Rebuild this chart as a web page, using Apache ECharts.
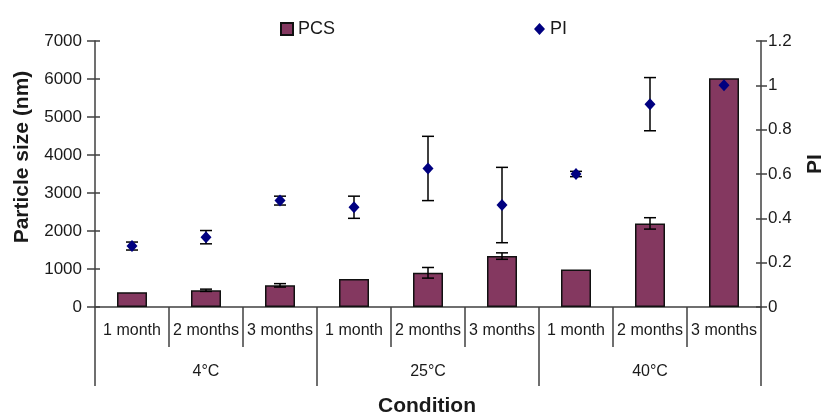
<!DOCTYPE html>
<html><head><meta charset="utf-8">
<script src="https://cdn.jsdelivr.net/npm/echarts@6/dist/echarts.min.js"></script>
<style>html,body{margin:0;padding:0;background:#fff}#c{width:827px;height:417px}</style>
</head><body><div id="c"></div>
<script>
const categories = ['1 month','2 months','3 months','1 month','2 months','3 months','1 month','2 months','3 months'];
const groups = ['4°C','25°C','40°C'];
const pcsValues = [390, 440, 570, 740, 900, 1340, 990, 2200, 6020];
const pcsErrors = [0, 30, 45, 0, 140, 85, 0, 150, 0];
const piValues = [0.275, 0.315, 0.48, 0.45, 0.625, 0.46, 0.6, 0.915, 1.0];
const piErrors = [0.018, 0.03, 0.02, 0.05, 0.145, 0.17, 0.012, 0.12, 0];
const leftTicks = {min: 0, max: 7000, interval: 1000};
const rightTicks = {min: 0, max: 1.2, interval: 0.2};

const FONT = "'Liberation Sans', Arial, sans-serif";
const TXT = '#1a1a1a';
const AX = '#404040';

function errItem(params, api) {
  const i = api.value(0), v = api.value(1), e = api.value(2);
  if (!e) return;
  const top = api.coord([i, v + e]);
  const bot = api.coord([i, v - e]);
  const hw = 6;
  const st = {stroke: '#000', lineWidth: 1.5};
  return {type: 'group', children: [
    {type: 'line', shape: {x1: top[0], y1: top[1], x2: bot[0], y2: bot[1]}, style: st},
    {type: 'line', shape: {x1: top[0]-hw, y1: top[1], x2: top[0]+hw, y2: top[1]}, style: st},
    {type: 'line', shape: {x1: bot[0]-hw, y1: bot[1], x2: bot[0]+hw, y2: bot[1]}, style: st}
  ]};
}

const chart = echarts.init(document.getElementById('c'), null, {renderer: 'canvas'});
chart.setOption({
  animation: false,
  textStyle: {fontFamily: FONT, color: TXT},
  grid: {left: 95, right: 66, top: 41, bottom: 110},
  legend: [
    {data: ['PCS'], left: 275, top: 15, itemWidth: 12, itemHeight: 12, icon: 'rect',
     textStyle: {fontSize: 18, color: TXT, fontFamily: FONT}},
    {data: ['PI'], left: 529, top: 15, itemWidth: 11, itemHeight: 12, icon: 'diamond',
     textStyle: {fontSize: 18, color: TXT, fontFamily: FONT}}
  ],
  xAxis: [
    {type: 'category', data: categories, position: 'bottom',
     axisLine: {show: true, lineStyle: {color: AX, width: 1.5}},
     axisTick: {show: true, length: 40, lineStyle: {color: AX, width: 1.5}},
     axisLabel: {margin: 16, fontSize: 16, color: TXT, fontFamily: FONT, interval: 0},
     splitLine: {show: false}},
    {type: 'category', data: groups, position: 'bottom',
     axisLine: {show: false},
     axisTick: {show: true, length: 79, lineStyle: {color: AX, width: 1.5}},
     axisLabel: {margin: 57, fontSize: 16, color: TXT, fontFamily: FONT, interval: 0},
     splitLine: {show: false}}
  ],
  yAxis: [
    {type: 'value', position: 'left', min: leftTicks.min, max: leftTicks.max, interval: leftTicks.interval,
     axisLine: {show: true, lineStyle: {color: AX, width: 1.5}},
     axisTick: {show: true, length: 8, lineStyle: {color: AX, width: 1.5}},
     axisLabel: {margin: 13, fontSize: 17, color: TXT, fontFamily: FONT, formatter: v => String(v)},
     splitLine: {show: false}},
    {type: 'value', position: 'right', min: rightTicks.min, max: rightTicks.max, interval: rightTicks.interval,
     axisLine: {show: true, lineStyle: {color: AX, width: 1.5}},
     axisTick: {show: true, length: 6, lineStyle: {color: AX, width: 1.5}},
     axisLabel: {margin: 7, fontSize: 17, color: TXT, fontFamily: FONT,
       formatter: v => String(+v.toFixed(1))},
     splitLine: {show: false}},
    {type: 'value', position: 'left', min: leftTicks.min, max: leftTicks.max, interval: leftTicks.interval,
     axisLine: {show: false}, axisLabel: {show: false}, splitLine: {show: false},
     axisTick: {show: true, inside: true, length: 5, lineStyle: {color: AX, width: 1.5}}},
    {type: 'value', position: 'right', min: rightTicks.min, max: rightTicks.max, interval: rightTicks.interval,
     axisLine: {show: false}, axisLabel: {show: false}, splitLine: {show: false},
     axisTick: {show: true, inside: true, length: 5, lineStyle: {color: AX, width: 1.5}}}
  ],
  series: [
    {name: 'PCS', type: 'bar', xAxisIndex: 0, yAxisIndex: 0, data: pcsValues, barWidth: 30, z: 2,
     itemStyle: {color: '#843860', borderColor: '#111', borderWidth: 1.5}},
    {name: 'PCS err', type: 'custom', xAxisIndex: 0, yAxisIndex: 0, z: 3,
     data: pcsValues.map((v, i) => [i, v, pcsErrors[i]]), encode: {x: 0, y: 1},
     renderItem: errItem},
    {name: 'PI err', type: 'custom', xAxisIndex: 0, yAxisIndex: 1, z: 3,
     data: piValues.map((v, i) => [i, v, piErrors[i]]), encode: {x: 0, y: 1},
     renderItem: errItem},
    {name: 'PI', type: 'scatter', xAxisIndex: 0, yAxisIndex: 1, data: piValues, z: 4,
     symbol: 'diamond', symbolSize: [11, 12], itemStyle: {color: '#000080', opacity: 1}}
  ],
  graphic: [
    {type: 'text', x: 22, y: 157, rotation: Math.PI / 2,
     style: {text: 'Particle size (nm)', font: "bold 21px 'Liberation Sans', Arial, sans-serif",
       fill: TXT, textAlign: 'center', textVerticalAlign: 'middle'}},
    {type: 'text', x: 815, y: 164, rotation: Math.PI / 2,
     style: {text: 'PI', font: "bold 21px 'Liberation Sans', Arial, sans-serif",
       fill: TXT, textAlign: 'center', textVerticalAlign: 'middle'}},
    {type: 'text', x: 427, y: 406,
     style: {text: 'Condition', font: "bold 21px 'Liberation Sans', Arial, sans-serif",
       fill: TXT, textAlign: 'center', textVerticalAlign: 'middle'}}
  ]
});
</script>
</body></html>
